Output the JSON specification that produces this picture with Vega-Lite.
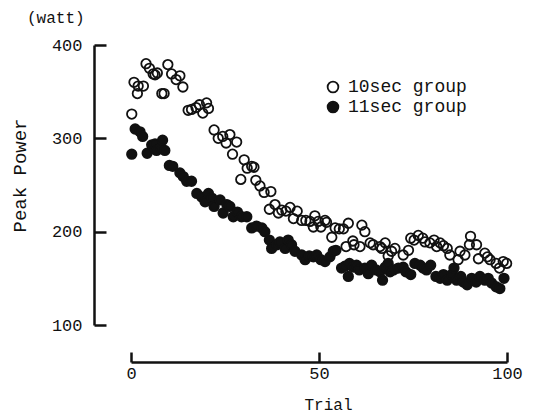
{
  "$schema": "https://vega.github.io/schema/vega-lite/v6.json",
  "width": 376,
  "height": 280,
  "autosize": {"type": "none"},
  "padding": {"left": 131, "top": 45, "right": 27, "bottom": 93},
  "background": "white",
  "title": {"text": "(watt)", "anchor": "start", "frame": "group", "dx": -104, "offset": 10, "fontSize": 16, "font": "Liberation Mono", "fontWeight": "normal", "color": "#111"},
  "config": {
    "view": {"stroke": null},
    "font": "Liberation Mono",
    "axis": {"grid": false, "domainColor": "#111", "tickColor": "#111", "labelColor": "#111", "titleColor": "#111", "domainWidth": 2.5, "tickWidth": 2.5, "labelFont": "Liberation Mono", "titleFont": "Liberation Mono", "labelFontSize": 17, "titleFontWeight": "normal"}
  },
  "datasets": {
    "pts": [
      {"trial": 0.2, "power": 326, "group": "10sec group"},
      {"trial": 0.8, "power": 360, "group": "10sec group"},
      {"trial": 1.9, "power": 356, "group": "10sec group"},
      {"trial": 3.3, "power": 356, "group": "10sec group"},
      {"trial": 1.7, "power": 348, "group": "10sec group"},
      {"trial": 4.0, "power": 380, "group": "10sec group"},
      {"trial": 4.9, "power": 375, "group": "10sec group"},
      {"trial": 5.9, "power": 369, "group": "10sec group"},
      {"trial": 7.0, "power": 370, "group": "10sec group"},
      {"trial": 6.4, "power": 368, "group": "10sec group"},
      {"trial": 8.2, "power": 348, "group": "10sec group"},
      {"trial": 8.8, "power": 348, "group": "10sec group"},
      {"trial": 9.8, "power": 379, "group": "10sec group"},
      {"trial": 10.8, "power": 369, "group": "10sec group"},
      {"trial": 12.0, "power": 363, "group": "10sec group"},
      {"trial": 13.0, "power": 367, "group": "10sec group"},
      {"trial": 13.8, "power": 355, "group": "10sec group"},
      {"trial": 15.2, "power": 330, "group": "10sec group"},
      {"trial": 16.1, "power": 331, "group": "10sec group"},
      {"trial": 17.3, "power": 333, "group": "10sec group"},
      {"trial": 18.2, "power": 336, "group": "10sec group"},
      {"trial": 19.1, "power": 327, "group": "10sec group"},
      {"trial": 20.1, "power": 338, "group": "10sec group"},
      {"trial": 20.6, "power": 332, "group": "10sec group"},
      {"trial": 22.1, "power": 309, "group": "10sec group"},
      {"trial": 23.2, "power": 300, "group": "10sec group"},
      {"trial": 24.4, "power": 302, "group": "10sec group"},
      {"trial": 25.3, "power": 295, "group": "10sec group"},
      {"trial": 26.3, "power": 304, "group": "10sec group"},
      {"trial": 28.1, "power": 296, "group": "10sec group"},
      {"trial": 27.0, "power": 283, "group": "10sec group"},
      {"trial": 30.1, "power": 277, "group": "10sec group"},
      {"trial": 30.9, "power": 268, "group": "10sec group"},
      {"trial": 32.1, "power": 270, "group": "10sec group"},
      {"trial": 32.7, "power": 269, "group": "10sec group"},
      {"trial": 29.2, "power": 256, "group": "10sec group"},
      {"trial": 33.2, "power": 255, "group": "10sec group"},
      {"trial": 34.3, "power": 249, "group": "10sec group"},
      {"trial": 35.4, "power": 242, "group": "10sec group"},
      {"trial": 37.2, "power": 243, "group": "10sec group"},
      {"trial": 36.8, "power": 224, "group": "10sec group"},
      {"trial": 38.3, "power": 229, "group": "10sec group"},
      {"trial": 39.2, "power": 220, "group": "10sec group"},
      {"trial": 40.1, "power": 223, "group": "10sec group"},
      {"trial": 41.2, "power": 222, "group": "10sec group"},
      {"trial": 42.3, "power": 226, "group": "10sec group"},
      {"trial": 43.2, "power": 214, "group": "10sec group"},
      {"trial": 44.2, "power": 222, "group": "10sec group"},
      {"trial": 45.4, "power": 212, "group": "10sec group"},
      {"trial": 46.5, "power": 212, "group": "10sec group"},
      {"trial": 47.6, "power": 211, "group": "10sec group"},
      {"trial": 48.9, "power": 217, "group": "10sec group"},
      {"trial": 48.5, "power": 205, "group": "10sec group"},
      {"trial": 49.8, "power": 211, "group": "10sec group"},
      {"trial": 50.5, "power": 205, "group": "10sec group"},
      {"trial": 51.6, "power": 212, "group": "10sec group"},
      {"trial": 52.0, "power": 210, "group": "10sec group"},
      {"trial": 53.4, "power": 194, "group": "10sec group"},
      {"trial": 54.3, "power": 204, "group": "10sec group"},
      {"trial": 55.4, "power": 203, "group": "10sec group"},
      {"trial": 56.5, "power": 203, "group": "10sec group"},
      {"trial": 57.8, "power": 209, "group": "10sec group"},
      {"trial": 61.4, "power": 207, "group": "10sec group"},
      {"trial": 62.2, "power": 200, "group": "10sec group"},
      {"trial": 57.2, "power": 184, "group": "10sec group"},
      {"trial": 59.0, "power": 190, "group": "10sec group"},
      {"trial": 59.3, "power": 186, "group": "10sec group"},
      {"trial": 60.9, "power": 184, "group": "10sec group"},
      {"trial": 63.6, "power": 188, "group": "10sec group"},
      {"trial": 64.4, "power": 186, "group": "10sec group"},
      {"trial": 66.2, "power": 184, "group": "10sec group"},
      {"trial": 67.6, "power": 188, "group": "10sec group"},
      {"trial": 66.7, "power": 182, "group": "10sec group"},
      {"trial": 68.4, "power": 174, "group": "10sec group"},
      {"trial": 69.3, "power": 179, "group": "10sec group"},
      {"trial": 70.2, "power": 182, "group": "10sec group"},
      {"trial": 72.4, "power": 175, "group": "10sec group"},
      {"trial": 73.8, "power": 180, "group": "10sec group"},
      {"trial": 74.4, "power": 193, "group": "10sec group"},
      {"trial": 75.3, "power": 191, "group": "10sec group"},
      {"trial": 76.4, "power": 196, "group": "10sec group"},
      {"trial": 77.6, "power": 193, "group": "10sec group"},
      {"trial": 78.2, "power": 189, "group": "10sec group"},
      {"trial": 79.5, "power": 188, "group": "10sec group"},
      {"trial": 80.6, "power": 191, "group": "10sec group"},
      {"trial": 81.3, "power": 184, "group": "10sec group"},
      {"trial": 82.2, "power": 188, "group": "10sec group"},
      {"trial": 83.1, "power": 185, "group": "10sec group"},
      {"trial": 84.1, "power": 182, "group": "10sec group"},
      {"trial": 84.8, "power": 175, "group": "10sec group"},
      {"trial": 87.0, "power": 170, "group": "10sec group"},
      {"trial": 87.5, "power": 179, "group": "10sec group"},
      {"trial": 88.8, "power": 175, "group": "10sec group"},
      {"trial": 90.0, "power": 186, "group": "10sec group"},
      {"trial": 90.3, "power": 195, "group": "10sec group"},
      {"trial": 91.9, "power": 186, "group": "10sec group"},
      {"trial": 92.4, "power": 171, "group": "10sec group"},
      {"trial": 94.1, "power": 177, "group": "10sec group"},
      {"trial": 94.8, "power": 173, "group": "10sec group"},
      {"trial": 95.5, "power": 170, "group": "10sec group"},
      {"trial": 97.1, "power": 166, "group": "10sec group"},
      {"trial": 98.0, "power": 161, "group": "10sec group"},
      {"trial": 99.0, "power": 168, "group": "10sec group"},
      {"trial": 99.9, "power": 166, "group": "10sec group"},
      {"trial": 1.1, "power": 310, "group": "11sec group"},
      {"trial": 2.4, "power": 307, "group": "11sec group"},
      {"trial": 3.1, "power": 302, "group": "11sec group"},
      {"trial": 0.2, "power": 283, "group": "11sec group"},
      {"trial": 4.3, "power": 284, "group": "11sec group"},
      {"trial": 5.5, "power": 293, "group": "11sec group"},
      {"trial": 6.4, "power": 294, "group": "11sec group"},
      {"trial": 6.8, "power": 287, "group": "11sec group"},
      {"trial": 7.9, "power": 290, "group": "11sec group"},
      {"trial": 8.4, "power": 298, "group": "11sec group"},
      {"trial": 9.0, "power": 287, "group": "11sec group"},
      {"trial": 10.2, "power": 271, "group": "11sec group"},
      {"trial": 11.1, "power": 270, "group": "11sec group"},
      {"trial": 13.0, "power": 263, "group": "11sec group"},
      {"trial": 13.9, "power": 259, "group": "11sec group"},
      {"trial": 14.8, "power": 254, "group": "11sec group"},
      {"trial": 16.1, "power": 254, "group": "11sec group"},
      {"trial": 17.5, "power": 241, "group": "11sec group"},
      {"trial": 18.8, "power": 237, "group": "11sec group"},
      {"trial": 19.7, "power": 232, "group": "11sec group"},
      {"trial": 20.6, "power": 241, "group": "11sec group"},
      {"trial": 21.5, "power": 236, "group": "11sec group"},
      {"trial": 22.1, "power": 227, "group": "11sec group"},
      {"trial": 23.7, "power": 234, "group": "11sec group"},
      {"trial": 24.5, "power": 220, "group": "11sec group"},
      {"trial": 25.5, "power": 229, "group": "11sec group"},
      {"trial": 26.3, "power": 227, "group": "11sec group"},
      {"trial": 27.2, "power": 216, "group": "11sec group"},
      {"trial": 28.3, "power": 221, "group": "11sec group"},
      {"trial": 29.4, "power": 216, "group": "11sec group"},
      {"trial": 30.8, "power": 216, "group": "11sec group"},
      {"trial": 32.1, "power": 204, "group": "11sec group"},
      {"trial": 33.4, "power": 206, "group": "11sec group"},
      {"trial": 34.8, "power": 204, "group": "11sec group"},
      {"trial": 35.6, "power": 200, "group": "11sec group"},
      {"trial": 36.8, "power": 191, "group": "11sec group"},
      {"trial": 37.4, "power": 182, "group": "11sec group"},
      {"trial": 38.8, "power": 186, "group": "11sec group"},
      {"trial": 39.6, "power": 189, "group": "11sec group"},
      {"trial": 41.0, "power": 182, "group": "11sec group"},
      {"trial": 41.8, "power": 191, "group": "11sec group"},
      {"trial": 42.7, "power": 186, "group": "11sec group"},
      {"trial": 43.6, "power": 179, "group": "11sec group"},
      {"trial": 45.4, "power": 175, "group": "11sec group"},
      {"trial": 46.3, "power": 170, "group": "11sec group"},
      {"trial": 47.4, "power": 174, "group": "11sec group"},
      {"trial": 48.5, "power": 173, "group": "11sec group"},
      {"trial": 49.4, "power": 175, "group": "11sec group"},
      {"trial": 50.5, "power": 170, "group": "11sec group"},
      {"trial": 51.6, "power": 168, "group": "11sec group"},
      {"trial": 52.9, "power": 173, "group": "11sec group"},
      {"trial": 53.8, "power": 179, "group": "11sec group"},
      {"trial": 54.5, "power": 180, "group": "11sec group"},
      {"trial": 56.0, "power": 161, "group": "11sec group"},
      {"trial": 56.9, "power": 163, "group": "11sec group"},
      {"trial": 58.1, "power": 166, "group": "11sec group"},
      {"trial": 59.1, "power": 162, "group": "11sec group"},
      {"trial": 60.0, "power": 164, "group": "11sec group"},
      {"trial": 60.7, "power": 159, "group": "11sec group"},
      {"trial": 62.2, "power": 161, "group": "11sec group"},
      {"trial": 63.1, "power": 155, "group": "11sec group"},
      {"trial": 64.0, "power": 164, "group": "11sec group"},
      {"trial": 65.2, "power": 159, "group": "11sec group"},
      {"trial": 66.2, "power": 157, "group": "11sec group"},
      {"trial": 67.6, "power": 162, "group": "11sec group"},
      {"trial": 68.4, "power": 166, "group": "11sec group"},
      {"trial": 57.8, "power": 152, "group": "11sec group"},
      {"trial": 66.9, "power": 148, "group": "11sec group"},
      {"trial": 68.9, "power": 157, "group": "11sec group"},
      {"trial": 69.8, "power": 159, "group": "11sec group"},
      {"trial": 71.1, "power": 161, "group": "11sec group"},
      {"trial": 72.4, "power": 162, "group": "11sec group"},
      {"trial": 73.1, "power": 157, "group": "11sec group"},
      {"trial": 74.4, "power": 154, "group": "11sec group"},
      {"trial": 75.5, "power": 166, "group": "11sec group"},
      {"trial": 76.9, "power": 164, "group": "11sec group"},
      {"trial": 77.7, "power": 161, "group": "11sec group"},
      {"trial": 78.6, "power": 159, "group": "11sec group"},
      {"trial": 79.7, "power": 164, "group": "11sec group"},
      {"trial": 81.1, "power": 152, "group": "11sec group"},
      {"trial": 82.2, "power": 150, "group": "11sec group"},
      {"trial": 83.1, "power": 154, "group": "11sec group"},
      {"trial": 84.1, "power": 148, "group": "11sec group"},
      {"trial": 85.3, "power": 154, "group": "11sec group"},
      {"trial": 85.9, "power": 161, "group": "11sec group"},
      {"trial": 86.6, "power": 148, "group": "11sec group"},
      {"trial": 87.7, "power": 152, "group": "11sec group"},
      {"trial": 88.4, "power": 146, "group": "11sec group"},
      {"trial": 89.4, "power": 143, "group": "11sec group"},
      {"trial": 90.6, "power": 150, "group": "11sec group"},
      {"trial": 91.8, "power": 146, "group": "11sec group"},
      {"trial": 92.8, "power": 152, "group": "11sec group"},
      {"trial": 94.1, "power": 148, "group": "11sec group"},
      {"trial": 95.0, "power": 150, "group": "11sec group"},
      {"trial": 95.9, "power": 145, "group": "11sec group"},
      {"trial": 97.1, "power": 141, "group": "11sec group"},
      {"trial": 98.1, "power": 139, "group": "11sec group"},
      {"trial": 99.2, "power": 150, "group": "11sec group"}
    ]
  },
  "data": {"name": "pts"},
  "mark": {"type": "point", "shape": "circle", "filled": true, "stroke": "#111", "strokeWidth": 1.8, "size": 90, "opacity": 1},
  "encoding": {
    "x": {"field": "trial", "type": "quantitative", "scale": {"domain": [0, 100], "nice": false, "zero": false},
      "axis": {"title": "Trial", "values": [0, 50, 100], "offset": 37, "tickSize": -10, "labelPadding": 13, "labelFlush": false, "titleFontSize": 16, "titlePadding": 15, "titleX": 197}},
    "y": {"field": "power", "type": "quantitative", "scale": {"domain": [100, 400], "nice": false, "zero": false},
      "axis": {"title": "Peak Power", "values": [100, 200, 300, 400], "offset": 37, "tickSize": -12, "labelPadding": 24, "labelFlush": false, "titleFontSize": 19, "titlePadding": 22, "titleY": 130}},
    "fill": {"field": "group", "type": "nominal", "scale": {"domain": ["10sec group", "11sec group"], "range": ["transparent", "#111"]},
      "legend": {"title": null, "orient": "none", "legendX": 193, "legendY": 33, "labelFontSize": 18, "labelFont": "Liberation Mono", "labelColor": "#111", "symbolSize": 115, "symbolStrokeColor": "#111", "symbolStrokeWidth": 1.8, "rowPadding": 2, "labelOffset": 6, "padding": 0}}
  }
}
